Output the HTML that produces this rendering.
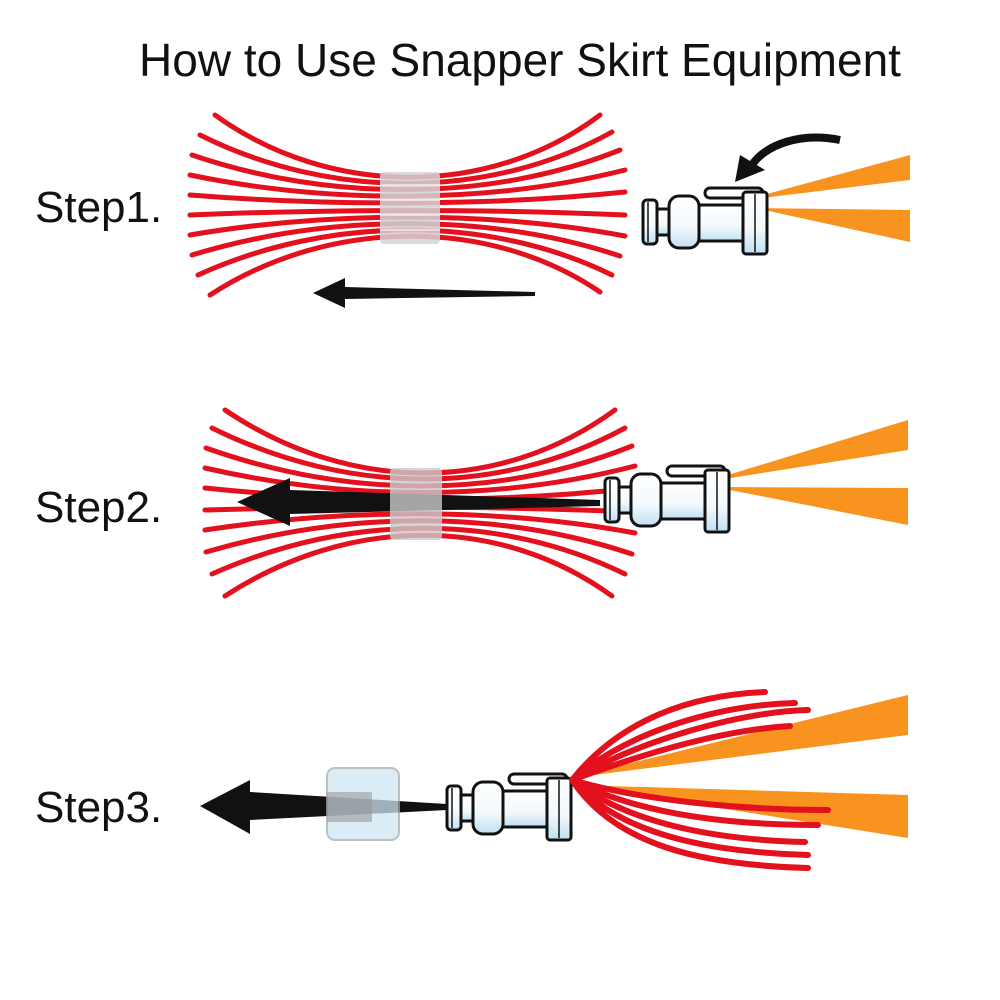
<!DOCTYPE html>
<html><head><style>
body{margin:0;background:#fff}
svg{display:block}
text{font-family:"Liberation Sans",sans-serif;fill:#111}
</style></head><body>
<svg width="1000" height="1000" viewBox="0 0 1000 1000" xmlns="http://www.w3.org/2000/svg">
<defs>
<linearGradient id="g" x1="0" y1="0" x2="0" y2="1">
<stop offset="0" stop-color="#fff"/><stop offset="0.6" stop-color="#f2f8fc"/><stop offset="1" stop-color="#bfe0f2"/></linearGradient>
<g id="tool" stroke="#111" stroke-width="3" fill="url(#g)" stroke-linejoin="round">
<rect x="62" y="-34" width="58" height="10" rx="5" fill="#fff"/>
<rect x="0" y="-22" width="14" height="44" rx="4"/>
<rect x="14" y="-13" width="12" height="26"/>
<rect x="26" y="-26" width="30" height="52" rx="10"/>
<rect x="56" y="-17" width="46" height="36"/>
<rect x="100" y="-30" width="24" height="62" rx="3"/>
<line x1="5" y1="-20" x2="5" y2="20" stroke-width="1.5"/>
<line x1="112" y1="-28" x2="112" y2="30" stroke-width="1.5"/>
</g>
</defs>
<text x="520" y="76" font-size="46" text-anchor="middle">How to Use Snapper Skirt Equipment</text>
<text x="35" y="222" font-size="44">Step1.</text>
<text x="35" y="522" font-size="44">Step2.</text>
<text x="35" y="822" font-size="44">Step3.</text>

<!-- step1 bundle -->
<g fill="none" stroke="#e3101d" stroke-width="5" stroke-linecap="round">
<path d="M215,115 C330,198 490,198 600,115"/>
<path d="M200,135 C330,200 490,200 612,132"/>
<path d="M192,155 C330,202 490,202 620,150"/>
<path d="M190,175 C330,204 490,204 625,170"/>
<path d="M190,195 C330,206 490,206 625,192"/>
<path d="M190,215 C330,209 490,209 625,215"/>
<path d="M190,235 C330,211 490,211 625,236"/>
<path d="M192,255 C330,213 490,213 620,256"/>
<path d="M198,275 C330,215 490,215 612,275"/>
<path d="M210,295 C330,217 490,217 600,292"/>
</g>
<rect x="380" y="172" width="60" height="72" rx="4" fill="#d3d3d6" opacity="0.85"/>
<g stroke="#fff" stroke-width="1.5" opacity="0.7"><line x1="380" y1="185" x2="440" y2="185"/><line x1="380" y1="200" x2="440" y2="200"/><line x1="380" y1="215" x2="440" y2="215"/><line x1="380" y1="230" x2="440" y2="230"/></g>
<polygon points="535,292 345,287 345,278 313,293 345,308 345,299 535,296" fill="#111"/>
<path d="M840,140 C800,132 765,145 752,165" fill="none" stroke="#111" stroke-width="8"/>
<polygon points="735,182 740,155 765,170" fill="#111"/>
<polygon points="745,200 910,155 910,180" fill="#f7931e"/>
<polygon points="755,208 910,210 910,242" fill="#f7931e"/>
<use href="#tool" x="643" y="222"/>

<!-- step2 bundle -->
<g fill="none" stroke="#e3101d" stroke-width="5" stroke-linecap="round">
<path d="M225,410 C350,494 500,494 615,410"/>
<path d="M212,428 C350,496 500,496 625,428"/>
<path d="M206,448 C350,499 500,499 632,446"/>
<path d="M205,468 C350,501 500,501 635,466"/>
<path d="M205,488 C350,503 500,503 635,488"/>
<path d="M205,510 C350,506 500,506 635,512"/>
<path d="M205,530 C350,508 500,508 635,533"/>
<path d="M206,552 C350,510 500,510 632,554"/>
<path d="M212,574 C350,513 500,513 625,574"/>
<path d="M225,596 C350,515 500,515 612,596"/>
</g>
<polygon points="600,500 290,490 290,478 237,502 290,526 290,514 600,506" fill="#111"/>
<rect x="390" y="468" width="52" height="72" rx="4" fill="#c9cacd" opacity="0.8"/>
<polygon points="705,482 908,420 908,450" fill="#f7931e"/>
<polygon points="715,487 908,488 908,525" fill="#f7931e"/>
<use href="#tool" x="605" y="500"/>

<!-- step3 -->
<polygon points="447,804 250,792 250,780 200,806 250,834 250,820 447,810" fill="#111"/>
<rect x="327" y="768" width="72" height="72" rx="8" fill="#cfe6f5" opacity="0.75" stroke="#aaa" stroke-width="2"/>
<rect x="327" y="792" width="45" height="30" fill="#999" opacity="0.6"/>
<polygon points="570,778 908,695 908,735" fill="#f7931e"/>
<polygon points="575,785 908,795 908,838" fill="#f7931e"/>
<use href="#tool" x="447" y="808"/>
<g fill="none" stroke="#e3101d" stroke-width="6" stroke-linecap="round">
<path d="M572,780 C620,720 690,695 765,692"/>
<path d="M572,780 C630,730 720,705 795,703"/>
<path d="M572,780 C640,740 740,712 808,710"/>
<path d="M572,780 C640,755 720,730 790,726"/>
<path d="M572,780 C640,800 740,810 828,810"/>
<path d="M572,780 C640,815 730,825 818,825"/>
<path d="M572,780 C630,825 720,840 805,842"/>
<path d="M572,780 C620,835 710,852 808,855"/>
<path d="M572,780 C615,845 700,865 808,868"/>
</g>
</svg>
</body></html>
